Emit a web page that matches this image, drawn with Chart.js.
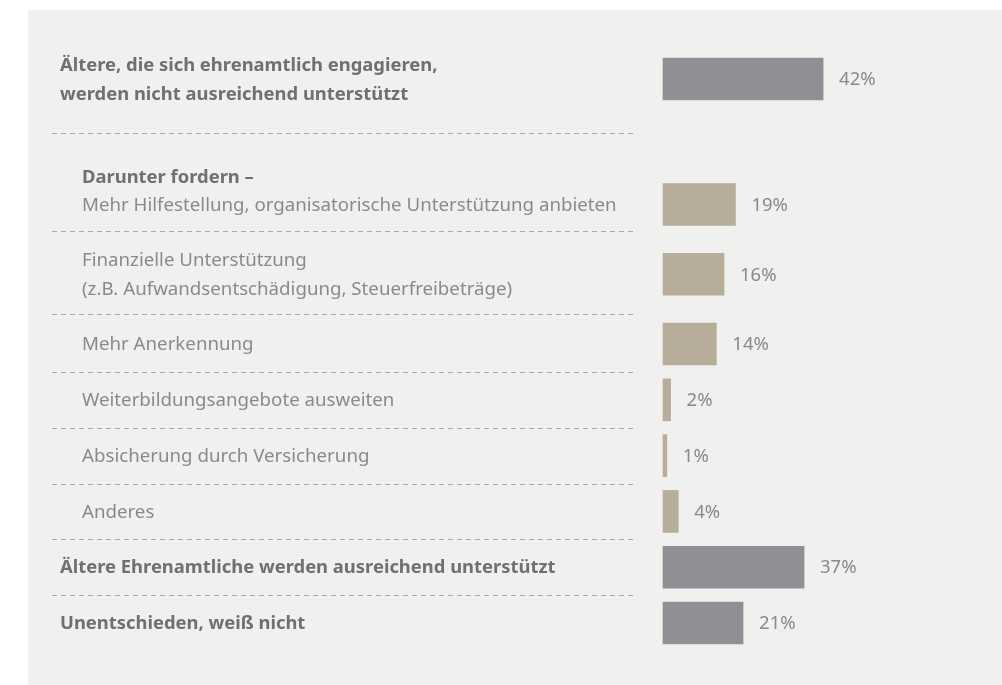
<!DOCTYPE html>
<html>
<head>
<meta charset="utf-8">
<script src="https://cdn.jsdelivr.net/npm/chart.js@4.4.1/dist/chart.umd.min.js"></script>
<style>
  html, body { margin: 0; padding: 0; background: #ffffff; }
</style>
</head>
<body>
<canvas id="c" width="1002" height="685"></canvas>
<script>
// ---- Data ----
const categories = [
  ["Ältere, die sich ehrenamtlich engagieren,", "werden nicht ausreichend unterstützt"],
  ["Mehr Hilfestellung, organisatorische Unterstützung anbieten"],
  ["Finanzielle Unterstützung", "(z.B. Aufwandsentschädigung, Steuerfreibeträge)"],
  ["Mehr Anerkennung"],
  ["Weiterbildungsangebote ausweiten"],
  ["Absicherung durch Versicherung"],
  ["Anderes"],
  ["Ältere Ehrenamtliche werden ausreichend unterstützt"],
  ["Unentschieden, weiß nicht"]
];
const values = [42, 19, 16, 14, 2, 1, 4, 37, 21];
const level = ["main", "sub", "sub", "sub", "sub", "sub", "sub", "main", "main"];
const subGroupHeading = "Darunter fordern –";
const valueLabels = values.map(v => v + "%");

// ---- Layout (row slots on the category axis) ----
const rowSlot = [0, 9, 14, 19, 23, 27, 31, 35, 39];
const separatorSlot = [3.9, 10.9, 16.85, 21, 25, 29, 33, 37];
const slotCount = 40;

const slotLabels = new Array(slotCount).fill("");
const slotData = new Array(slotCount).fill(null);
const slotColors = new Array(slotCount).fill("transparent");
const COLORS = { main: "#8f9093", sub: "#b8ad9b" };
rowSlot.forEach((s, i) => {
  slotLabels[s] = categories[i].join(" ");
  slotData[s] = values[i];
  slotColors[s] = COLORS[level[i]];
});
const slotRow = {};
rowSlot.forEach((s, i) => slotRow[s] = i);

const FONT = '"Noto Sans", sans-serif';
const BOLD_FONT = "bold 18.4px " + FONT;
const REG_FONT = "18.7px " + FONT;

const panelPlugin = {
  id: 'panel',
  beforeDraw(chart) {
    const ctx = chart.ctx;
    ctx.save();
    ctx.fillStyle = "#ffffff";
    ctx.fillRect(0, 0, chart.width, chart.height);
    ctx.fillStyle = "#f0f0ee";
    ctx.fillRect(28, 10, chart.width - 28, chart.height - 10);
    ctx.restore();
  }
};

const labelPlugin = {
  id: 'rowLabels',
  afterDraw(chart) {
    const ctx = chart.ctx;
    const y = chart.scales.y;
    ctx.save();
    // separators
    ctx.strokeStyle = "#a8a8a8";
    ctx.lineWidth = 1;
    ctx.setLineDash([5, 4]);
    separatorSlot.forEach(s => {
      const py = Math.round(y.getPixelForValue(s)) + 0.5;
      ctx.beginPath();
      ctx.moveTo(52, py);
      ctx.lineTo(633, py);
      ctx.stroke();
    });
    ctx.setLineDash([]);
    ctx.textBaseline = "middle";
    ctx.textAlign = "left";
    const lh = 29;
    categories.forEach((lines, i) => {
      const yc = y.getPixelForValue(rowSlot[i]);
      const isMain = level[i] === "main";
      const x = isMain ? 60 : 82;
      ctx.font = isMain ? BOLD_FONT : REG_FONT;
      ctx.fillStyle = isMain ? "#707072" : "#8a8a8b";
      const n = lines.length;
      lines.forEach((t, k) => {
        ctx.fillText(t, x, yc + 1 + (k - (n - 1) / 2) * lh);
      });
      if (i === 1) {
        ctx.font = BOLD_FONT;
        ctx.fillStyle = "#707072";
        ctx.fillText(subGroupHeading, x, yc - lh + 2);
      }
    });
    // value labels
    const meta = chart.getDatasetMeta(0);
    ctx.font = "18.5px " + FONT;
    ctx.fillStyle = "#88898c";
    meta.data.forEach((el, idx) => {
      if (slotData[idx] === null) return;
      const r = slotRow[idx];
      ctx.fillText(valueLabels[r], el.x + 16, el.y + 1);
    });
    ctx.restore();
  }
};

new Chart(document.getElementById("c"), {
  type: "bar",
  data: {
    labels: slotLabels,
    datasets: [{
      data: slotData,
      backgroundColor: slotColors,
      barThickness: 42,
      borderWidth: 0,
      clip: false
    }]
  },
  options: {
    indexAxis: "y",
    responsive: false,
    animation: false,
    events: [],
    layout: { padding: { left: 663, right: 15, top: 72, bottom: 55 } },
    scales: {
      x: { display: false, min: 0, max: 85 },
      y: { display: false }
    },
    plugins: {
      legend: { display: false },
      tooltip: { enabled: false },
      title: { display: false }
    }
  },
  plugins: [panelPlugin, labelPlugin]
});
</script>
</body>
</html>
